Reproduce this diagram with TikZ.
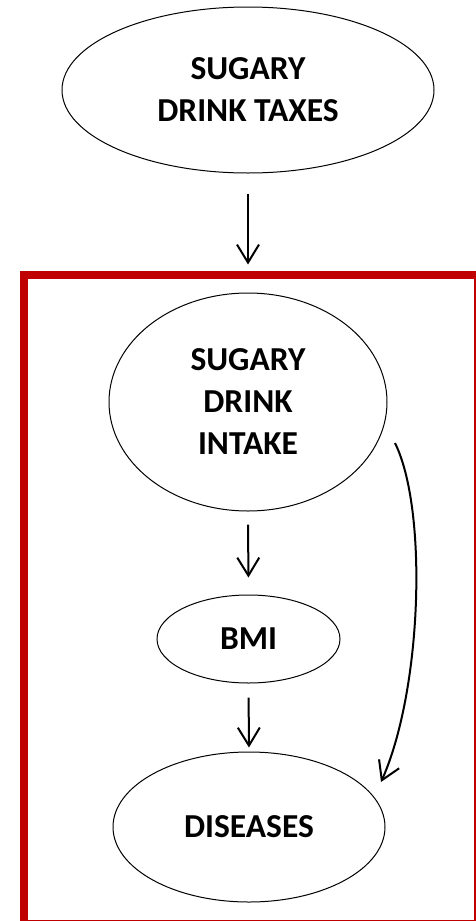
\documentclass[tikz,border=0pt]{standalone}
\usepackage{fontspec}
\setmainfont{Carlito}
\usetikzlibrary{shapes.geometric,arrows.meta}
\definecolor{boxred}{HTML}{C00000}
\tikzset{
  oval/.style={ellipse, draw, line width=1pt, inner sep=0pt, align=center,
    font=\bfseries\fontsize{33.5}{42}\selectfont},
  arr/.style={line width=2pt, -{Straight Barb[length=18pt,width=22pt]}},
}
\begin{document}
\begin{tikzpicture}[x=1pt,y=-1pt]
\useasboundingbox (0,0) rectangle (475,921);
\draw[boxred, line width=8pt] (23.5,275) rectangle (478,924);
\node[oval, minimum width=372pt, minimum height=166pt] (tax) at (248,90) {SUGARY\\DRINK TAXES};
\node[oval, minimum width=278pt, minimum height=218pt] (intake) at (248,402) {SUGARY\\DRINK\\INTAKE};
\node[oval, minimum width=183pt, minimum height=88pt] (bmi) at (248.5,639) {BMI};
\node[oval, minimum width=272pt, minimum height=150pt] (dis) at (249,827) {DISEASES};
\draw[arr, shorten <=20pt, shorten >=28pt] (tax.south) -- (intake.north);
\draw[arr, shorten <=13pt, shorten >=17pt] (intake.south) -- (bmi.north);
\draw[arr, shorten <=14pt, shorten >=4pt] (bmi.south) -- (dis.north);
\coordinate (cs) at (395,443);
\coordinate (ce) at (381,782);
\draw[arr] (cs) .. controls (428,510) and (422,690) .. (ce);
\end{tikzpicture}
\end{document}
